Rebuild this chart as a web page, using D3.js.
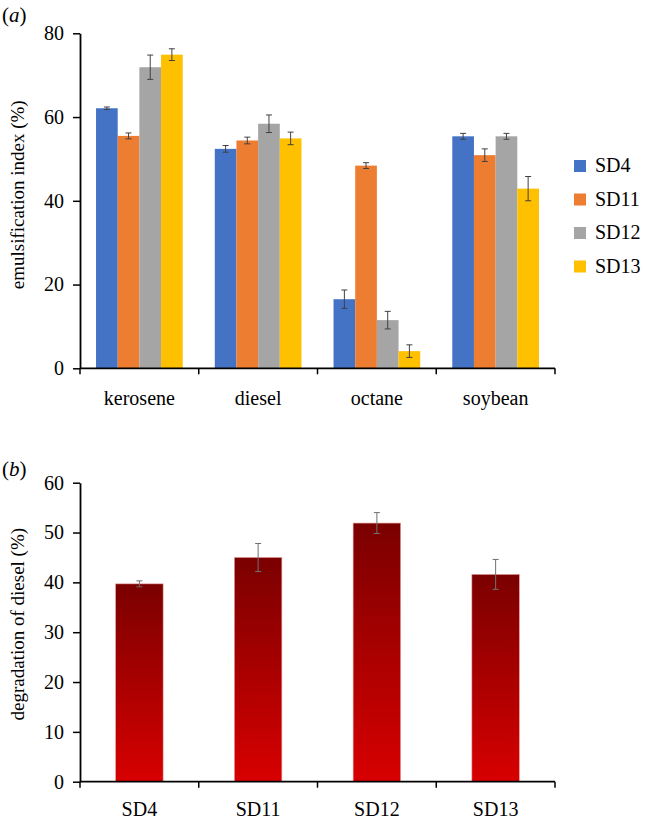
<!DOCTYPE html>
<html>
<head>
<meta charset="utf-8">
<script src="https://cdn.jsdelivr.net/npm/d3@7"></script>
<style>
  html, body { margin: 0; padding: 0; background: #fff; }
  svg, svg text { font-family: "Liberation Serif", "Times New Roman", serif !important; }
</style>
</head>
<body>
<script>
// ---- Data (panel a) ----
const oils = ["kerosene", "diesel", "octane", "soybean"];
const strains = ["SD4", "SD11", "SD12", "SD13"];
const strainColors = ["#4472C4", "#ED7D31", "#A5A5A5", "#FFC000"];
// values per strain across oils
const emulsSD4  = [62.1, 52.4, 16.5, 55.4];
const emulsSD11 = [55.5, 54.4, 48.4, 50.9];
const emulsSD12 = [71.9, 58.4, 11.5, 55.4];
const emulsSD13 = [74.9, 54.9, 4.1, 42.9];
const errSD4  = [0.3, 0.8, 2.2, 0.7];
const errSD11 = [0.7, 0.8, 0.7, 1.5];
const errSD12 = [2.9, 2.1, 2.1, 0.7];
const errSD13 = [1.4, 1.5, 1.5, 2.9];
const emulsTicks = [0, 20, 40, 60, 80];

// ---- Data (panel b) ----
const degStrains = ["SD4", "SD11", "SD12", "SD13"];
const degValues = [39.7, 45.0, 51.9, 41.6];
const degErrors = [0.6, 2.8, 2.1, 3.0];
const degTicks = [0, 10, 20, 30, 40, 50, 60];

const W = 645, H = 821;
const svg = d3.select("body").append("svg").attr("width", W).attr("height", H);

const defs = svg.append("defs");
const grad = defs.append("linearGradient").attr("id", "redGrad")
  .attr("x1", 0).attr("y1", 0).attr("x2", 0).attr("y2", 1);
grad.append("stop").attr("offset", "0%").attr("stop-color", "#7a0000");
grad.append("stop").attr("offset", "100%").attr("stop-color", "#d80000");

const FS = 20;

// ================= Panel (a) =================
const emulsVals = [emulsSD4, emulsSD11, emulsSD12, emulsSD13];
const emulsErrs = [errSD4, errSD11, errSD12, errSD13];

const xA = d3.scaleBand().domain(oils).range([80, 555]).padding(0);
const bwA = xA.bandwidth();
const xAin = d3.scaleBand().domain(strains).range([bwA * 0.135, bwA * 0.865]).padding(0);
const yA = d3.scaleLinear().domain([0, 80]).range([368.3, 33.3]);

const gA = svg.append("g");

strains.forEach((s, si) => {
  gA.append("g").selectAll("rect").data(oils).join("rect")
    .attr("x", d => xA(d) + xAin(s))
    .attr("width", xAin.bandwidth())
    .attr("y", (d, i) => yA(emulsVals[si][i]))
    .attr("height", (d, i) => yA(0) - yA(emulsVals[si][i]))
    .attr("fill", strainColors[si]);
});
strains.forEach((s, si) => {
  const g = gA.append("g").attr("stroke", "#404040").attr("stroke-width", 1);
  oils.forEach((o, i) => {
    const cx = xA(o) + xAin(s) + xAin.bandwidth() / 2;
    const v = emulsVals[si][i], e = emulsErrs[si][i];
    g.append("line").attr("x1", cx).attr("x2", cx).attr("y1", yA(v + e)).attr("y2", yA(v - e));
    g.append("line").attr("x1", cx - 3).attr("x2", cx + 3).attr("y1", yA(v + e)).attr("y2", yA(v + e));
    g.append("line").attr("x1", cx - 3).attr("x2", cx + 3).attr("y1", yA(v - e)).attr("y2", yA(v - e));
  });
});

function styleYAxis(ax) {
  ax.attr("font-family", null).attr("font-size", null);
  ax.select(".domain").attr("stroke", "#000").attr("stroke-width", 1.8);
  ax.selectAll(".tick line").attr("stroke", "#000").attr("stroke-width", 1.5);
  ax.selectAll(".tick text").attr("font-size", FS).attr("fill", "#000");
}

const yAxisA = gA.append("g").attr("transform", "translate(80,0)")
  .call(d3.axisLeft(yA).tickValues(emulsTicks).tickSize(7).tickPadding(9).tickSizeOuter(0));
styleYAxis(yAxisA);

function drawXAxis(g, x, y0, labels, labelY) {
  g.append("line").attr("x1", x.range()[0]).attr("x2", x.range()[1])
    .attr("y1", y0).attr("y2", y0).attr("stroke", "#000").attr("stroke-width", 1.8);
  const bounds = labels.map(d => x(d)).concat([x.range()[1]]);
  g.selectAll("line.tk").data(bounds).join("line").attr("class", "tk")
    .attr("x1", d => d).attr("x2", d => d).attr("y1", y0).attr("y2", y0 + 6)
    .attr("stroke", "#000").attr("stroke-width", 1.5);
  g.selectAll("text.xl").data(labels).join("text").attr("class", "xl")
    .attr("x", d => x(d) + x.bandwidth() / 2).attr("y", labelY)
    .attr("text-anchor", "middle").attr("font-size", FS).attr("fill", "#000")
    .text(d => d);
}
drawXAxis(gA, xA, yA(0), oils, 405);

gA.append("text").attr("transform", `translate(24,${(yA(0) + yA(80)) / 2 - 6}) rotate(-90)`)
  .attr("text-anchor", "middle").attr("font-size", 19).text("emulsification index (%)");

gA.append("text").attr("x", 2).attr("y", 22).attr("font-size", 21)
  .html('(<tspan font-style="italic">a</tspan>)');

const leg = gA.append("g");
strains.forEach((s, i) => {
  const y = 160 + i * 33.5;
  leg.append("rect").attr("x", 574).attr("y", y).attr("width", 12).attr("height", 12)
    .attr("fill", strainColors[i]);
  leg.append("text").attr("x", 595).attr("y", y + 12).attr("font-size", FS).text(s);
});

// ================= Panel (b) =================
const xB = d3.scaleBand().domain(degStrains).range([80, 555]).padding(0);
const bwB = xB.bandwidth();
const barW = bwB * 0.4;
const yB = d3.scaleLinear().domain([0, 60]).range([781.7, 482.7]);

const gB = svg.append("g");
gB.selectAll("rect.bar").data(degStrains).join("rect").attr("class", "bar")
  .attr("x", d => xB(d) + (bwB - barW) / 2)
  .attr("width", barW)
  .attr("y", (d, i) => yB(degValues[i]))
  .attr("height", (d, i) => yB(0) - yB(degValues[i]))
  .attr("fill", "url(#redGrad)")
  .attr("stroke", "#e8a0a0").attr("stroke-width", 0.6);

const eg = gB.append("g").attr("stroke", "#707070").attr("stroke-width", 1);
degStrains.forEach((s, i) => {
  const cx = xB(s) + bwB / 2;
  const v = degValues[i], e = degErrors[i];
  eg.append("line").attr("x1", cx).attr("x2", cx).attr("y1", yB(v + e)).attr("y2", yB(v - e));
  eg.append("line").attr("x1", cx - 3).attr("x2", cx + 3).attr("y1", yB(v + e)).attr("y2", yB(v + e));
  eg.append("line").attr("x1", cx - 3).attr("x2", cx + 3).attr("y1", yB(v - e)).attr("y2", yB(v - e));
});

const yAxisB = gB.append("g").attr("transform", "translate(80,0)")
  .call(d3.axisLeft(yB).tickValues(degTicks).tickSize(7).tickPadding(9).tickSizeOuter(0));
styleYAxis(yAxisB);

drawXAxis(gB, xB, yB(0), degStrains, 816);

gB.append("text").attr("transform", `translate(24,${(yB(0) + yB(60)) / 2 - 8}) rotate(-90)`)
  .attr("text-anchor", "middle").attr("font-size", 19).text("degradation of diesel (%)");

gB.append("text").attr("x", 2).attr("y", 476).attr("font-size", 21)
  .html('(<tspan font-style="italic">b</tspan>)');
</script>
</body>
</html>
